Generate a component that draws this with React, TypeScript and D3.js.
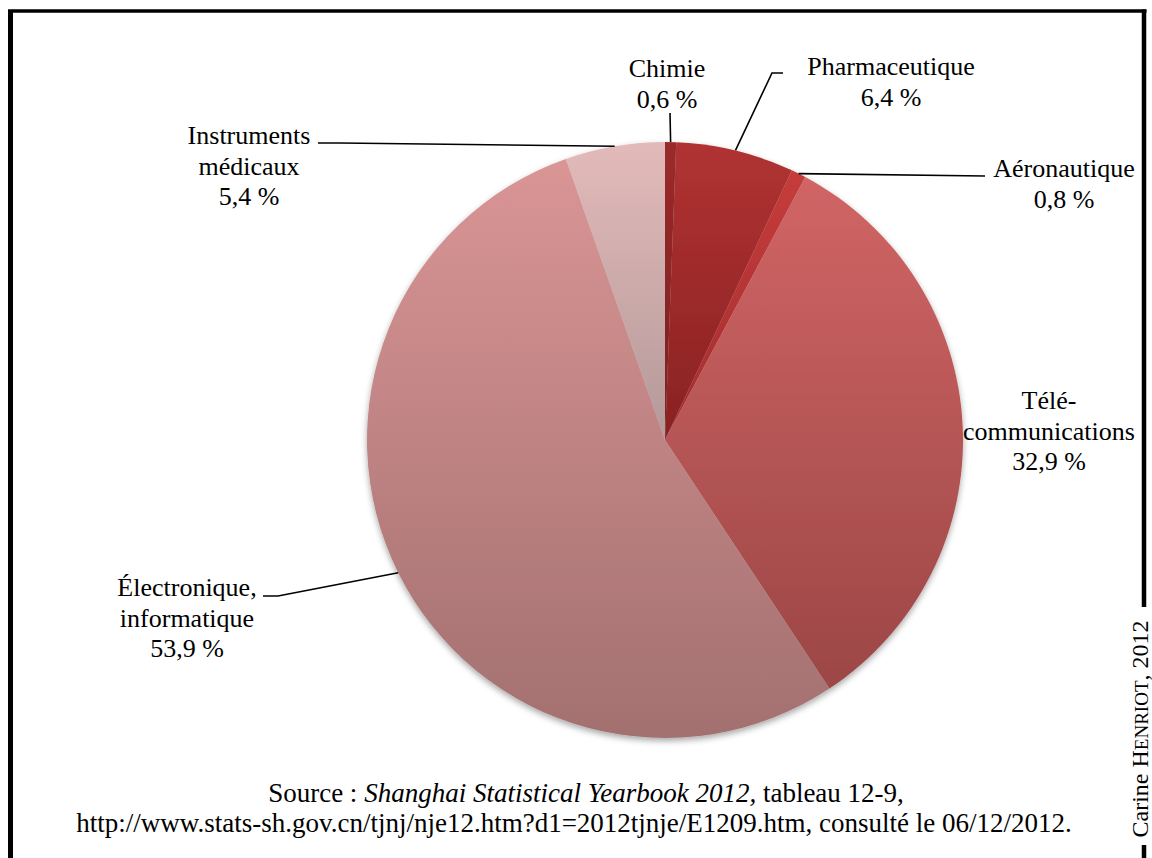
import * as d3 from 'd3';

// Values (share of output, %)
const categories = ['Chimie', 'Pharmaceutique', 'Aéronautique', 'Télécommunications', 'Électronique, informatique', 'Instruments médicaux'];
const values = [0.6, 6.4, 0.8, 32.9, 53.9, 5.4];
const labelLines = [['Chimie'], ['Pharmaceutique'], ['Aéronautique'], ['Télé-', 'communications'], ['Électronique,', 'informatique'], ['Instruments', 'médicaux']];
const topColors = ['#9a2a2a', '#b13232', '#c63c3c', '#d16565', '#da9595', '#e3baba'];
const bottomColors = ['#7c2020', '#892222', '#a42c2c', '#9c4646', '#a37070', '#b49999'];

const sourceLine2 = 'http://www.stats-sh.gov.cn/tjnj/nje12.htm?d1=2012tjnje/E1209.htm, consulté le 06/12/2012.';

// label layout: text centre x, first baseline y, leader points after the slice edge
const labelLayout = [
	{ x: 667, y: 77, leader: [[670, 113]] },
	{ x: 891, y: 75, leader: [[772, 73], [783, 73]] },
	{ x: 1064, y: 177, leader: [[985, 176]] },
	{ x: 1049, y: 409, leader: [] },
	{ x: 187, y: 596, leader: [[278, 596], [263, 596]] },
	{ x: 249, y: 144, leader: [[340, 143], [318, 143]] },
];

const W = 1152;
const H = 858;
const cx = 665;
const cy = 440;
const radius = 298;
const lineH = 30.5;
const font = '"Liberation Serif", "Times New Roman", serif';

const fmt = (v: number) => v.toFixed(1).replace('.', ',') + ' %';

export default function App() {
	const pie = d3
		.pie<number>()
		.value((d) => d)
		.sort(null);
	const arcs = pie(values);
	const arc = d3.arc<d3.PieArcDatum<number>>().innerRadius(0).outerRadius(radius);

	const edgePoint = (a: d3.PieArcDatum<number>) => {
		const mid = (a.startAngle + a.endAngle) / 2;
		return [cx + radius * Math.sin(mid), cy - radius * Math.cos(mid)];
	};

	const line = d3.line();

	return (
		<svg width={W} height={H} style={{ position: 'absolute', left: 0, top: 0, background: '#fff' }} fontFamily={font}>
			<defs>
				{arcs.map((a, i) => (
					<linearGradient key={i} id={`slice-grad-${i}`} x1="0" y1="0" x2="0" y2="1">
						<stop offset="0%" stopColor={topColors[i]} />
						<stop offset="100%" stopColor={bottomColors[i]} />
					</linearGradient>
				))}
				<filter id="pie-shadow" x="-10%" y="-10%" width="120%" height="125%">
					<feDropShadow dx="0" dy="3" stdDeviation="3" floodColor="#000" floodOpacity="0.35" />
				</filter>
			</defs>

			{/* frame */}
			<path d={`M10.5,${H} V11`} stroke="#000" strokeWidth={5} fill="none" />
			<path d="M8,11 H1146.5" stroke="#000" strokeWidth={3.5} fill="none" />
			<path d="M1144,9.5 V607" stroke="#000" strokeWidth={4.5} fill="none" />
			<path d={`M1144,845 V${H}`} stroke="#000" strokeWidth={4.5} fill="none" />

			{/* pie */}
			<g transform={`translate(${cx},${cy})`} filter="url(#pie-shadow)">
				{arcs.map((a, i) => (
					<path key={categories[i]} d={arc(a) || ''} fill={`url(#slice-grad-${i})`} />
				))}
			</g>

			{/* leader lines */}
			{arcs.map((a, i) => {
				const pts = labelLayout[i].leader;
				if (pts.length === 0) return null;
				const p = edgePoint(a) as [number, number];
				return <path key={i} d={line([p, ...(pts as [number, number][])]) || ''} stroke="#000" strokeWidth={1.6} fill="none" />;
			})}

			{/* labels */}
			{arcs.map((a, i) => {
				const lines = [...labelLines[i], fmt(values[i])];
				const l = labelLayout[i];
				return (
					<text key={i} x={l.x} y={l.y} fontSize={26} textAnchor="middle" fill="#000">
						{lines.map((t, j) => (
							<tspan key={j} x={l.x} y={l.y + j * lineH}>
								{t}
							</tspan>
						))}
					</text>
				);
			})}

			{/* source */}
			<text x={586} y={802} fontSize={27} textAnchor="middle" fill="#000">
				Source : <tspan fontStyle="italic">Shanghai Statistical Yearbook 2012,</tspan> tableau 12-9,
			</text>
			<text x={574} y={832} fontSize={27} textAnchor="middle" fill="#000">
				{sourceLine2}
			</text>

			{/* author */}
			<text transform="translate(1148,729) rotate(-90)" fontSize={24} textAnchor="middle" fill="#000">
				Carine H<tspan fontSize={19}>ENRIOT</tspan>, 2012
			</text>
		</svg>
	);
}
